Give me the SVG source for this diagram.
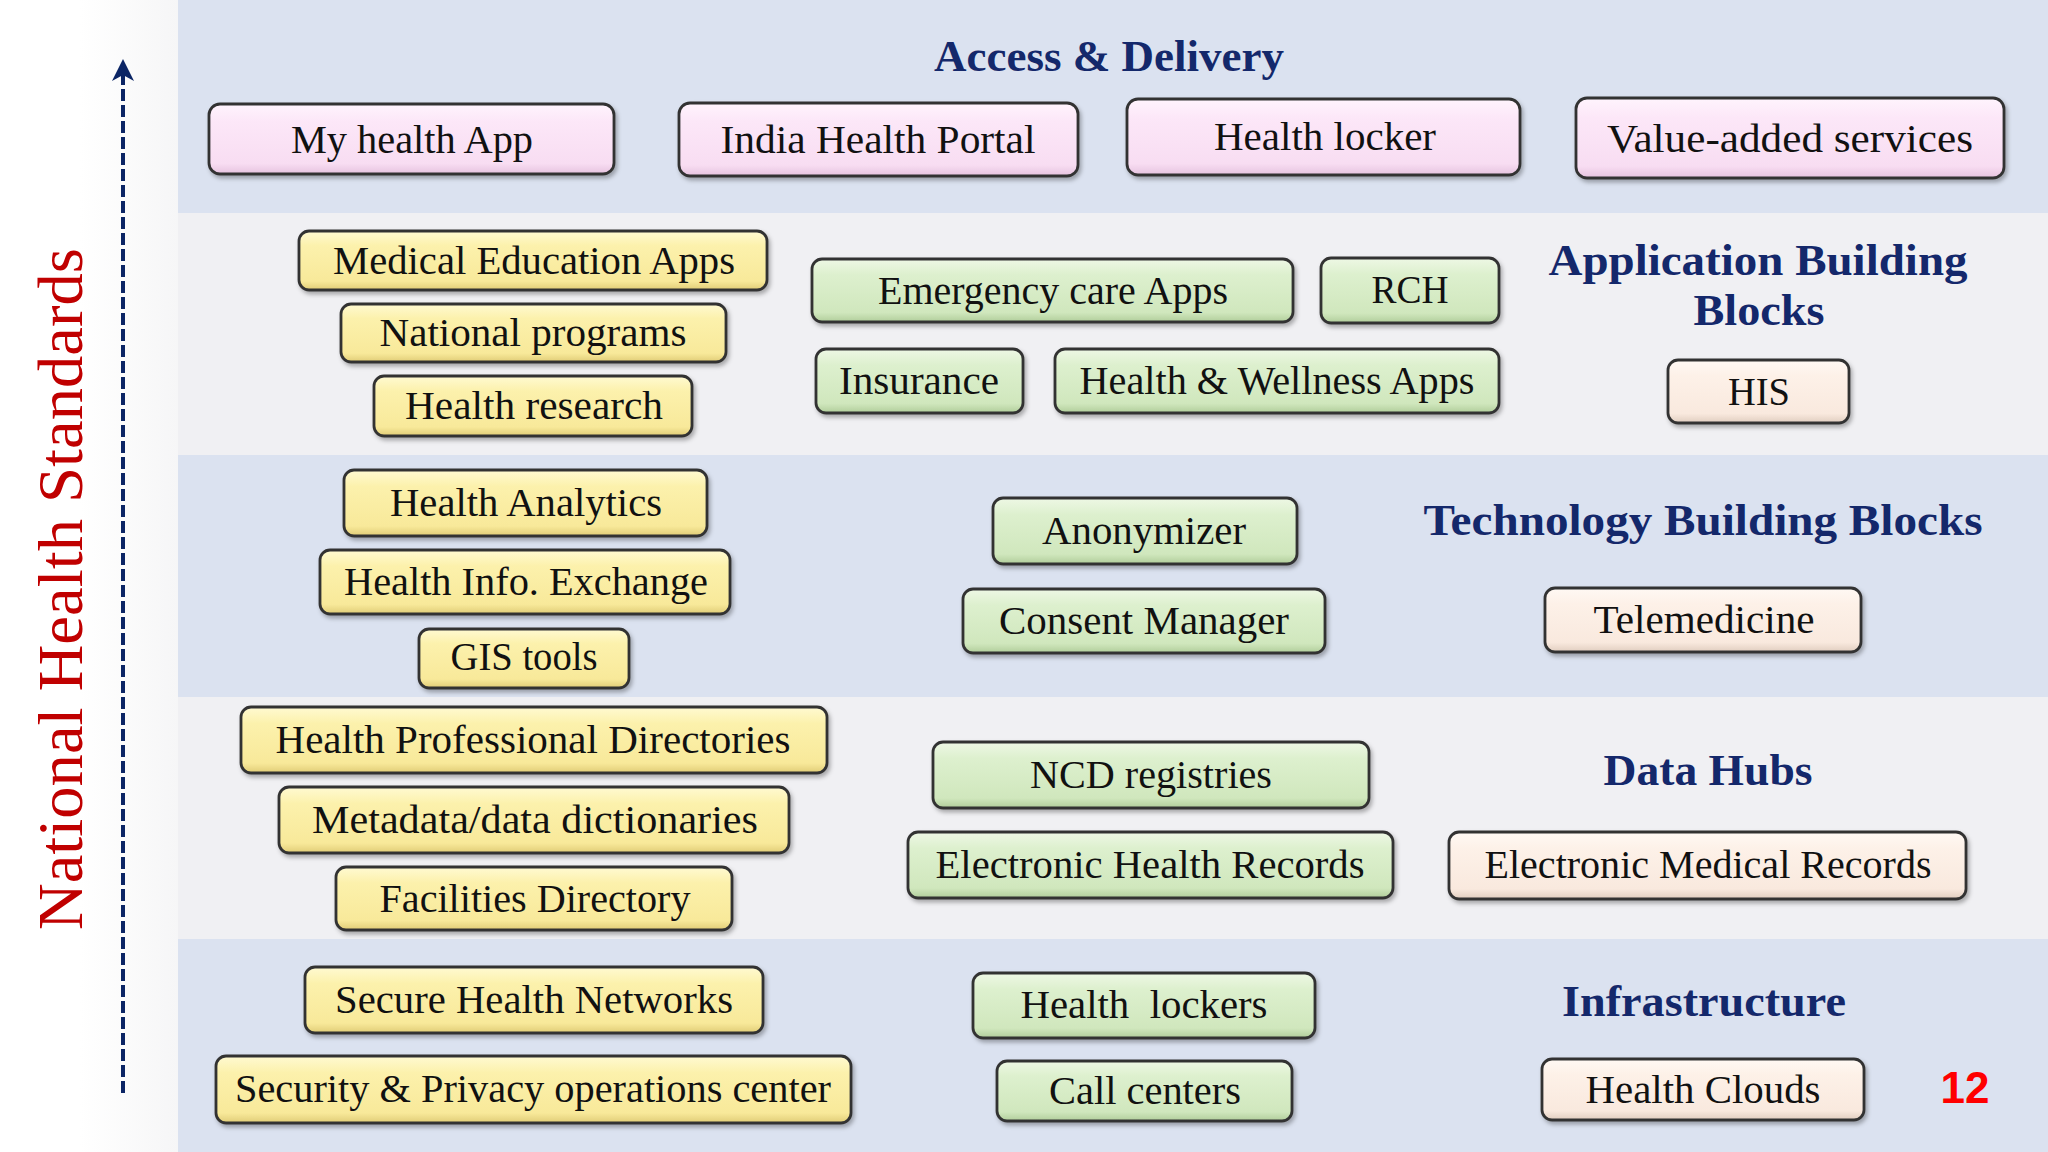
<svg xmlns="http://www.w3.org/2000/svg" width="2048" height="1152" viewBox="0 0 2048 1152">
<style>
.band-b{fill:#DBE2F0}
.band-g{fill:#F0F0F3}
.box{stroke:#333333;stroke-width:2.8;filter:url(#sh)}
.pink{fill:url(#gPink)}
.yel{fill:url(#gYel)}
.grn{fill:url(#gGrn)}
.crm{fill:url(#gCrm)}
.lbl{font-family:"Liberation Serif","Times New Roman",serif;font-size:40px;fill:#111;text-anchor:middle}
.ttl{font-family:"Liberation Serif","Times New Roman",serif;font-size:45px;font-weight:bold;fill:#14286B;text-anchor:middle}
.side{font-family:"Liberation Serif","Times New Roman",serif;font-size:64px;fill:#C00000;text-anchor:middle}
.num{font-family:"Liberation Sans",Arial,sans-serif;font-size:44px;font-weight:bold;fill:#FF0000;text-anchor:middle}
.dash{stroke:#0B2565;stroke-width:4;stroke-dasharray:12 4;fill:none}
</style>
<defs>
<linearGradient id="gPink" x1="0" y1="0" x2="0" y2="1">
<stop offset="0" stop-color="#FFF4FD"/><stop offset="0.25" stop-color="#FCE7F8"/><stop offset="0.85" stop-color="#F8DDF2"/><stop offset="1" stop-color="#E6C3DF"/>
</linearGradient>
<linearGradient id="gYel" x1="0" y1="0" x2="0" y2="1">
<stop offset="0" stop-color="#FFFAD2"/><stop offset="0.25" stop-color="#FCF1AC"/><stop offset="0.85" stop-color="#F8E99A"/><stop offset="1" stop-color="#E0CC76"/>
</linearGradient>
<linearGradient id="gGrn" x1="0" y1="0" x2="0" y2="1">
<stop offset="0" stop-color="#EEF8E5"/><stop offset="0.25" stop-color="#DDF0CE"/><stop offset="0.85" stop-color="#D0E7BD"/><stop offset="1" stop-color="#B0CD9A"/>
</linearGradient>
<linearGradient id="gCrm" x1="0" y1="0" x2="0" y2="1">
<stop offset="0" stop-color="#FFF9F4"/><stop offset="0.25" stop-color="#FDF1E8"/><stop offset="0.85" stop-color="#F9E9DE"/><stop offset="1" stop-color="#E0CDBF"/>
</linearGradient>
<linearGradient id="gLeft" x1="0" y1="0" x2="1" y2="0">
<stop offset="0" stop-color="#FFFFFF"/><stop offset="0.45" stop-color="#FFFFFF"/><stop offset="1" stop-color="#F6F6F7"/>
</linearGradient>
<filter id="sh" x="-5%" y="-15%" width="112%" height="140%">
<feDropShadow dx="2" dy="3" stdDeviation="2" flood-color="#000" flood-opacity="0.3"/>
</filter>
<marker id="ah" markerUnits="userSpaceOnUse" viewBox="0 0 22 22" markerWidth="22" markerHeight="22" refX="6" refY="11" orient="auto">
<path d="M0,0 L22,11 L0,22 L6,11 Z" fill="#0B2565"/>
</marker>
</defs>

<g id="background">
<rect x="0" y="0" width="2048" height="1152" fill="#FFFFFF"/>
<rect x="0" y="0" width="178" height="1152" fill="url(#gLeft)"/>
<rect class="band-b" x="178" y="0" width="1870" height="213"/>
<rect class="band-g" x="178" y="213" width="1870" height="242"/>
<rect class="band-b" x="178" y="455" width="1870" height="242"/>
<rect class="band-g" x="178" y="697" width="1870" height="242"/>
<rect class="band-b" x="178" y="939" width="1870" height="213"/>
</g>

<g id="connectors">
<line class="dash" x1="123" y1="1093" x2="123" y2="75" marker-end="url(#ah)"/>
</g>

<g id="side-title">
<text class="side" transform="translate(82,589) rotate(-90)" textLength="682" lengthAdjust="spacingAndGlyphs">National Health Standards</text>
</g>

<g id="titles">
<text id="t-access" class="ttl" x="1109" y="71" textLength="350" lengthAdjust="spacingAndGlyphs">Access &amp; Delivery</text>
<text id="t-app1" class="ttl" x="1758" y="275" textLength="419" lengthAdjust="spacingAndGlyphs">Application Building</text>
<text id="t-app2" class="ttl" x="1759" y="325" textLength="131" lengthAdjust="spacingAndGlyphs">Blocks</text>
<text id="t-tech" class="ttl" x="1703" y="535" textLength="559" lengthAdjust="spacingAndGlyphs">Technology Building Blocks</text>
<text id="t-data" class="ttl" x="1708" y="785" textLength="209" lengthAdjust="spacingAndGlyphs">Data Hubs</text>
<text id="t-infra" class="ttl" x="1704" y="1016" textLength="284" lengthAdjust="spacingAndGlyphs">Infrastructure</text>
</g>

<g id="n-myhealthapp"><rect class="box pink" x="209" y="104" width="405" height="70" rx="11"/><text class="lbl" x="412" y="153" textLength="242" lengthAdjust="spacingAndGlyphs">My health App</text></g>
<g id="n-indiaportal"><rect class="box pink" x="679" y="103" width="399" height="73" rx="11"/><text class="lbl" x="878" y="153" textLength="315" lengthAdjust="spacingAndGlyphs">India Health Portal</text></g>
<g id="n-healthlocker"><rect class="box pink" x="1127" y="99" width="393" height="76" rx="11"/><text class="lbl" x="1325" y="150" textLength="222" lengthAdjust="spacingAndGlyphs">Health locker</text></g>
<g id="n-valueadded"><rect class="box pink" x="1576" y="98" width="428" height="80" rx="11"/><text class="lbl" x="1790" y="152" textLength="366" lengthAdjust="spacingAndGlyphs">Value-added services</text></g>

<g id="n-mededu"><rect class="box yel" x="299" y="231" width="468" height="59" rx="10"/><text class="lbl" x="534" y="274" textLength="402" lengthAdjust="spacingAndGlyphs">Medical Education Apps</text></g>
<g id="n-natprog"><rect class="box yel" x="341" y="304" width="385" height="58" rx="10"/><text class="lbl" x="533" y="346" textLength="307" lengthAdjust="spacingAndGlyphs">National programs</text></g>
<g id="n-research"><rect class="box yel" x="374" y="376" width="318" height="60" rx="10"/><text class="lbl" x="534" y="419" textLength="258" lengthAdjust="spacingAndGlyphs">Health research</text></g>
<g id="n-emergency"><rect class="box grn" x="812" y="259" width="481" height="63" rx="10"/><text class="lbl" x="1053" y="304" textLength="350" lengthAdjust="spacingAndGlyphs">Emergency care Apps</text></g>
<g id="n-rch"><rect class="box grn" x="1321" y="258" width="178" height="65" rx="10"/><text class="lbl" x="1410" y="303" textLength="77" lengthAdjust="spacingAndGlyphs">RCH</text></g>
<g id="n-insurance"><rect class="box grn" x="816" y="349" width="207" height="64" rx="10"/><text class="lbl" x="919" y="394" textLength="160" lengthAdjust="spacingAndGlyphs">Insurance</text></g>
<g id="n-wellness"><rect class="box grn" x="1055" y="349" width="444" height="64" rx="10"/><text class="lbl" x="1277" y="394" textLength="395" lengthAdjust="spacingAndGlyphs">Health &amp; Wellness Apps</text></g>
<g id="n-his"><rect class="box crm" x="1668" y="360" width="181" height="63" rx="10"/><text class="lbl" x="1759" y="405" textLength="62" lengthAdjust="spacingAndGlyphs">HIS</text></g>

<g id="n-analytics"><rect class="box yel" x="344" y="470" width="363" height="66" rx="10"/><text class="lbl" x="526" y="516" textLength="272" lengthAdjust="spacingAndGlyphs">Health Analytics</text></g>
<g id="n-hie"><rect class="box yel" x="320" y="550" width="410" height="64" rx="10"/><text class="lbl" x="526" y="595" textLength="364" lengthAdjust="spacingAndGlyphs">Health Info. Exchange</text></g>
<g id="n-gis"><rect class="box yel" x="419" y="629" width="210" height="59" rx="10"/><text class="lbl" x="524" y="670" textLength="147" lengthAdjust="spacingAndGlyphs">GIS tools</text></g>
<g id="n-anonymizer"><rect class="box grn" x="993" y="498" width="304" height="66" rx="10"/><text class="lbl" x="1144" y="544" textLength="204" lengthAdjust="spacingAndGlyphs">Anonymizer</text></g>
<g id="n-consent"><rect class="box grn" x="963" y="589" width="362" height="64" rx="10"/><text class="lbl" x="1144" y="634" textLength="290" lengthAdjust="spacingAndGlyphs">Consent Manager</text></g>
<g id="n-telemedicine"><rect class="box crm" x="1545" y="588" width="316" height="64" rx="10"/><text class="lbl" x="1704" y="633" textLength="221" lengthAdjust="spacingAndGlyphs">Telemedicine</text></g>

<g id="n-hpd"><rect class="box yel" x="241" y="707" width="586" height="66" rx="10"/><text class="lbl" x="533" y="753" textLength="515" lengthAdjust="spacingAndGlyphs">Health Professional Directories</text></g>
<g id="n-metadata"><rect class="box yel" x="279" y="787" width="510" height="66" rx="10"/><text class="lbl" x="535" y="833" textLength="446" lengthAdjust="spacingAndGlyphs">Metadata/data dictionaries</text></g>
<g id="n-facilities"><rect class="box yel" x="336" y="867" width="396" height="63" rx="10"/><text class="lbl" x="535" y="912" textLength="311" lengthAdjust="spacingAndGlyphs">Facilities Directory</text></g>
<g id="n-ncd"><rect class="box grn" x="933" y="742" width="436" height="66" rx="10"/><text class="lbl" x="1151" y="788" textLength="242" lengthAdjust="spacingAndGlyphs">NCD registries</text></g>
<g id="n-ehr"><rect class="box grn" x="908" y="832" width="485" height="66" rx="10"/><text class="lbl" x="1150" y="878" textLength="429" lengthAdjust="spacingAndGlyphs">Electronic Health Records</text></g>
<g id="n-emr"><rect class="box crm" x="1449" y="832" width="517" height="67" rx="10"/><text class="lbl" x="1708" y="878" textLength="447" lengthAdjust="spacingAndGlyphs">Electronic Medical Records</text></g>

<g id="n-securenet"><rect class="box yel" x="305" y="967" width="458" height="66" rx="10"/><text class="lbl" x="534" y="1013" textLength="398" lengthAdjust="spacingAndGlyphs">Secure Health Networks</text></g>
<g id="n-soc"><rect class="box yel" x="216" y="1056" width="635" height="67" rx="10"/><text class="lbl" x="533" y="1102" textLength="596" lengthAdjust="spacingAndGlyphs">Security &amp; Privacy operations center</text></g>
<g id="n-lockers"><rect class="box grn" x="973" y="973" width="342" height="65" rx="10"/><text class="lbl" x="1144" y="1018" textLength="247" lengthAdjust="spacingAndGlyphs">Health&#160; lockers</text></g>
<g id="n-callcenters"><rect class="box grn" x="997" y="1061" width="295" height="60" rx="10"/><text class="lbl" x="1145" y="1104" textLength="192" lengthAdjust="spacingAndGlyphs">Call centers</text></g>
<g id="n-clouds"><rect class="box crm" x="1542" y="1059" width="322" height="61" rx="10"/><text class="lbl" x="1703" y="1103" textLength="235" lengthAdjust="spacingAndGlyphs">Health Clouds</text></g>

<g id="page-number"><text class="num" x="1965" y="1103">12</text></g>
</svg>
